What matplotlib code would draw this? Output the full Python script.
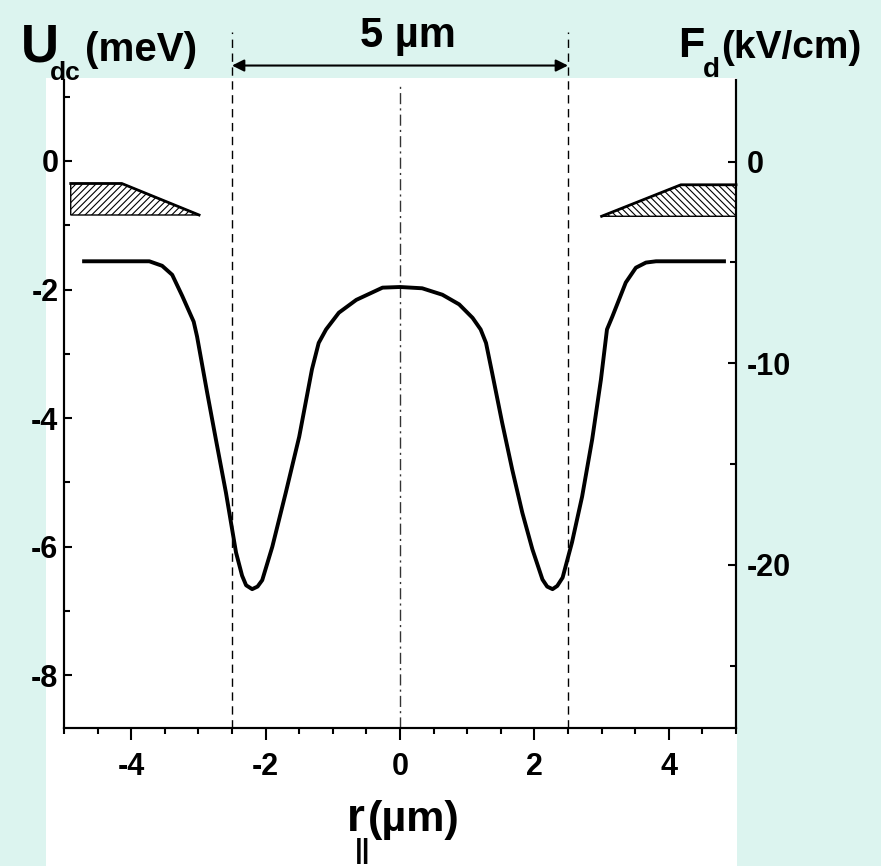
import matplotlib
matplotlib.use("Agg")
import matplotlib.pyplot as plt
from matplotlib.patches import Rectangle, Polygon
from matplotlib.ticker import FixedLocator, FixedFormatter, MultipleLocator

# ---- data -------------------------------------------------------------
# in-plane coordinate r (um) and confining potential U_dc (meV)
r_um = [-4.73, -3.73, -3.54, -3.39, -3.24, -3.07, -3.02, -2.87, -2.74, -2.59,
        -2.44, -2.35, -2.29, -2.20, -2.12, -2.05, -1.90, -1.70, -1.50, -1.31,
        -1.21, -1.10, -0.91, -0.65, -0.26, 0.00, 0.33, 0.63, 0.88, 1.08, 1.20,
        1.28, 1.37, 1.52, 1.67, 1.82, 1.97, 2.12, 2.19, 2.27, 2.34, 2.42,
        2.56, 2.71, 2.86, 2.99, 3.08, 3.16, 3.36, 3.51, 3.66, 3.81, 4.85]
U_meV = [-1.56, -1.56, -1.63, -1.77, -2.10, -2.50, -2.73, -3.60, -4.33, -5.16,
         -6.09, -6.45, -6.60, -6.66, -6.62, -6.52, -6.00, -5.16, -4.29, -3.24,
         -2.83, -2.62, -2.36, -2.16, -1.97, -1.96, -1.98, -2.08, -2.23, -2.44,
         -2.62, -2.83, -3.29, -4.07, -4.80, -5.47, -6.04, -6.51, -6.62, -6.66,
         -6.61, -6.48, -5.93, -5.22, -4.33, -3.40, -2.62, -2.42, -1.89, -1.66,
         -1.58, -1.56, -1.56]

# gate electrodes (r in um, height on the U axis)
gate_left_r = [-4.90, -4.14, -2.99, -4.90]
gate_left_u = [-0.35, -0.35, -0.84, -0.84]
gate_right_r = [3.00, 4.18, 5.00, 5.00]
gate_right_u = [-0.86, -0.37, -0.37, -0.86]

# mesa edges and the spacing between them
mesa_edges = [-2.5, 2.5]
mesa_label = "5 \u00b5m"

x_ticks = [-4, -2, 0, 2, 4]
x_ticklabels = ["-4", "-2", "0", "2", "4"]
u_ticks = [-8, -6, -4, -2, 0]
u_ticklabels = ["-8", "-6", "-4", "-2", "0"]
f_ticks = [-20, -10, 0]
f_ticklabels = ["-20", "-10", "0"]
f_minor = [-25, -15, -5]

# ---- figure -----------------------------------------------------------
W, H = 881, 866
BG = "#dcf4ef"
FONT = ["Liberation Sans", "DejaVu Sans"]

plt.rcParams["hatch.linewidth"] = 0.8

fig = plt.figure(figsize=(W / 100, H / 100), dpi=100, facecolor=BG)


def fx(px):
    return px / W


def fy(py):
    return 1 - py / H


# white panel behind the plot
fig.patches.append(Rectangle((fx(46), 0), fx(737) - fx(46), fy(78),
                             transform=fig.transFigure, facecolor="white",
                             edgecolor="none", zorder=-5))

ax = fig.add_axes([fx(64), fy(728), fx(736) - fx(64), fy(80) - fy(728)])
ax.set_facecolor("white")
ymin, ymax = -8.82, 1.26
ax.set_xlim(-5, 5)
ax.set_ylim(ymin, ymax)

ax2 = ax.twinx()
ax2.set_ylim(-28.1, 4.05)

for a in (ax, ax2):
    a.spines["top"].set_visible(False)
    for s in ("left", "right", "bottom"):
        a.spines[s].set_linewidth(1.5)

# x axis
ax.xaxis.set_major_locator(FixedLocator(x_ticks))
ax.xaxis.set_major_formatter(FixedFormatter(x_ticklabels))
ax.xaxis.set_minor_locator(MultipleLocator(0.5))
ax.tick_params(axis="x", which="major", direction="out", length=8.5, width=1.5,
               pad=9, labelsize=22)
ax.tick_params(axis="x", which="minor", direction="out", length=4.5, width=1.5)

# left axis
ax.yaxis.set_major_locator(FixedLocator(u_ticks))
ax.yaxis.set_major_formatter(FixedFormatter(u_ticklabels))
ax.yaxis.set_minor_locator(MultipleLocator(1))
ax.tick_params(axis="y", which="major", direction="in", length=6, width=1.5,
               pad=4, labelsize=22)
ax.tick_params(axis="y", which="minor", direction="in", length=4, width=1.5)

# right axis
ax2.yaxis.set_major_locator(FixedLocator(f_ticks))
ax2.yaxis.set_major_formatter(FixedFormatter(f_ticklabels))
ax2.yaxis.set_minor_locator(FixedLocator(f_minor))
ax2.tick_params(axis="y", which="major", direction="in", length=6, width=1.5,
                pad=8, labelsize=22)
ax2.tick_params(axis="y", which="minor", direction="in", length=4, width=1.5)

for lab in ax.get_xticklabels() + ax.get_yticklabels() + ax2.get_yticklabels():
    lab.set_fontweight("bold")
    lab.set_family(FONT)

# gates
ax.add_patch(Polygon(list(zip(gate_left_r, gate_left_u)), closed=True,
                     facecolor="white", edgecolor="black", hatch="/////",
                     lw=1.0, zorder=2))
ax.plot(gate_left_r[:3], gate_left_u[:3], color="black", lw=2, zorder=3)
ax.add_patch(Polygon(list(zip(gate_right_r, gate_right_u)), closed=True,
                     facecolor="white", edgecolor="black", hatch="\\\\\\\\\\",
                     lw=1.0, zorder=2, clip_on=False))
ax.plot(gate_right_r[:3], gate_right_u[:3], color="black", lw=2, zorder=3,
        clip_on=False)

# potential profile
ax.plot(r_um, U_meV, color="black", lw=2.8, solid_joinstyle="round",
        solid_capstyle="butt", zorder=4)

# mesa edges and centre line
top_dash = (2.01 - ymin) / (ymax - ymin)
for xe in mesa_edges:
    ax.axvline(xe, ymin=0, ymax=top_dash, color="black", lw=1.0,
               linestyle=(0, (6, 4)), clip_on=False, zorder=1)
ax.axvline(0, ymin=0, ymax=(1.16 - ymin) / (ymax - ymin), color="#333333",
           lw=1.0, linestyle=(0, (8, 3, 1.5, 3)), zorder=1)

ax.annotate("", xy=(mesa_edges[0], 1.485), xytext=(mesa_edges[1], 1.485),
            xycoords="data", annotation_clip=False,
            arrowprops=dict(arrowstyle="<|-|>", color="black", lw=1.5,
                            mutation_scale=18, shrinkA=0, shrinkB=0))
fig.text(fx(408), fy(47), mesa_label, ha="center", va="baseline",
         fontsize=30, fontweight="bold", family=FONT)

# axis titles
fig.text(fx(21), fy(62), "U", ha="left", va="baseline", fontsize=38,
         fontweight="bold", family=FONT)
fig.text(fx(50), fy(80), "dc", ha="left", va="baseline", fontsize=19,
         fontweight="bold", family=FONT)
fig.text(fx(85), fy(61), "(meV)", ha="left", va="baseline", fontsize=29,
         fontweight="bold", family=FONT)

fig.text(fx(678), fy(57), "F", ha="left", va="baseline", fontsize=31,
         fontweight="bold", family=FONT)
fig.text(fx(703), fy(77), "d", ha="left", va="baseline", fontsize=20,
         fontweight="bold", family=FONT)
fig.text(fx(721), fy(58), "(kV/cm)", ha="left", va="baseline", fontsize=28,
         fontweight="bold", family=FONT)

fig.text(fx(347), fy(831), "r", ha="left", va="baseline", fontsize=33,
         fontweight="bold", family=FONT)
fig.text(fx(355), fy(858), "||", ha="left", va="baseline", fontsize=20,
         fontweight="bold", family=FONT)
fig.text(fx(368), fy(831), "(\u00b5m)", ha="left", va="baseline", fontsize=31,
         fontweight="bold", family=FONT)

fig.savefig("out.png", dpi=100, facecolor=BG)
